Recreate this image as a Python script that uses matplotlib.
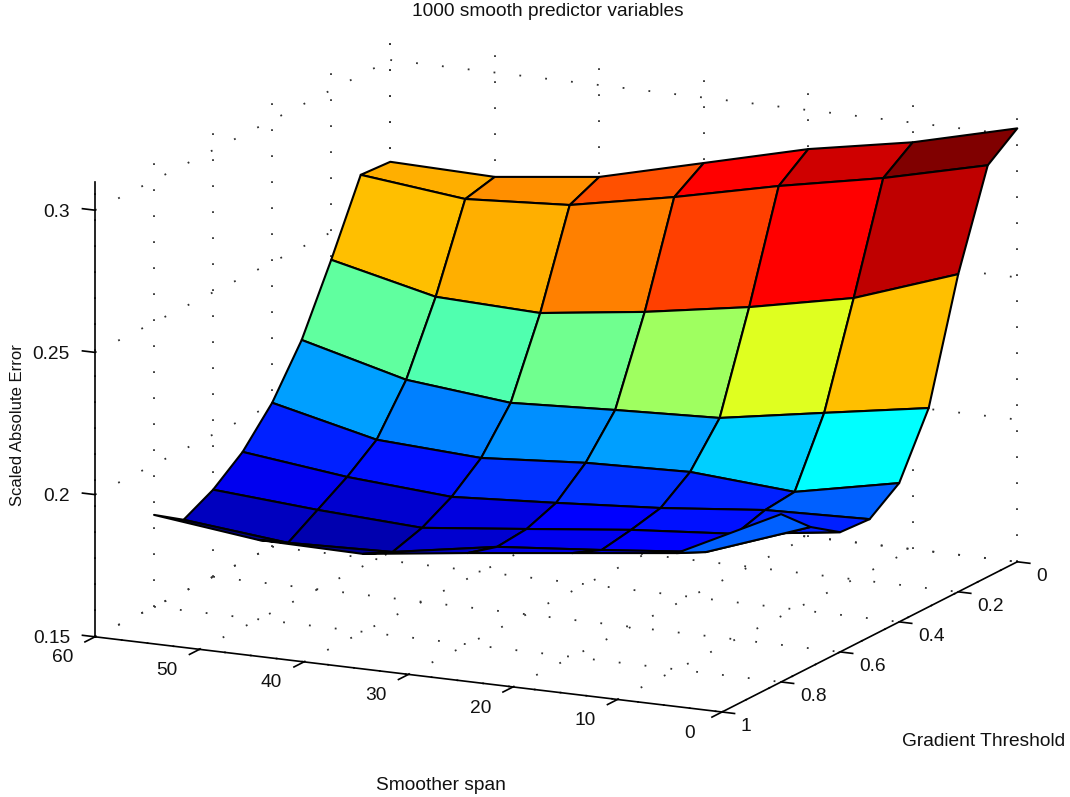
import numpy as np
import matplotlib
matplotlib.use("Agg")
import matplotlib.pyplot as plt
from matplotlib.colors import ListedColormap
from mpl_toolkits.mplot3d import proj3d

plt.rcParams['font.family'] = ['Liberation Sans', 'DejaVu Sans']

W, H = 1070, 797

span = [0, 10, 20, 30, 40, 50, 60]
threshold = [0, 0.1, 0.2, 0.3, 0.4, 0.5, 0.6, 0.7, 0.8]

# one row per threshold, columns follow span
err_00 = [.3024, .2931, .2863, .2770, .2677, .2633, .2642]
err_01 = [.2947, .2858, .2786, .2703, .2631, .2608, .2649]
err_02 = [.2617, .2489, .2413, .2352, .2304, .2317, .2403]
err_03 = [.2199, .2138, .2076, .2060, .2041, .2078, .2174]
err_04 = [.1988, .1913, .1939, .1927, .1900, .1920, .2006]
err_05 = [.1914, .1902, .1865, .1839, .1816, .1842, .1886]
err_06 = [.1921, .1871, .1841, .1800, .1760, .1779, .1806]
err_07 = [.1992, .1860, .1823, .1790, .1728, .1716, .1753]
err_08 = [.2090, .1909, .1865, .1821, .1774, .1779, .1823]

span_ticks = [0, 10, 20, 30, 40, 50, 60]
thr_ticks = [0, 0.2, 0.4, 0.6, 0.8, 1]
thr_labels = ['0', '0.2', '0.4', '0.6', '0.8', '1']
err_ticks = [0.15, 0.2, 0.25, 0.3]
err_labels = ['0.15', '0.2', '0.25', '0.3']
err_lim = (0.15, 0.31)
color_lim = (0.1716, 0.304)

FS = 13.8
DOTS = (0, (1, 13.4))


def matlab_jet(n=64):
    # matplotlib's jet has different break points from the MATLAB one
    x = np.arange(1, n + 1) / n
    r = np.clip(np.minimum(4 * x - 1.5, -4 * x + 4.5), 0, 1)
    g = np.clip(np.minimum(4 * x - 0.5, -4 * x + 3.5), 0, 1)
    b = np.clip(np.minimum(4 * x + 0.5, -4 * x + 2.5), 0, 1)
    return ListedColormap(np.column_stack([r, g, b]))


fig = plt.figure(figsize=(W / 100, H / 100), dpi=100)
ax = fig.add_axes([0, 0, 1, 1], projection='3d', proj_type='ortho', computed_zorder=False)
ax.view_init(elev=14.3, azim=115.9)
ax.set_xlim(0, 60, view_margin=0)
ax.set_ylim(0, 1, view_margin=0)
ax.set_zlim(*err_lim, view_margin=0)
ax.set_box_aspect((697, 676, 469.6), zoom=1)
ax.set_axis_off()


def axes_frac(x, y, z):
    px, py, _ = proj3d.proj_transform(x, y, z, ax.get_proj())
    return ax.transAxes.inverted().transform(ax.transData.transform((px, py)))


# line the box up with the axis corners of the original
ax.apply_aspect()
ua = axes_frac(0, 1, 0.15)
uc = axes_frac(60, 1, 0.15)
size = (722 - 95) / abs(ua[0] - uc[0])
left = 722 - size * ua[0]
bottom = (H - 712) - size * ua[1]
ax.set_position([left / W, bottom / H, size / W, size / H])


def label(x, y, z, txt, ha):
    # tick labels sit on the figure, at the projected spot of the 3d point
    u = axes_frac(x, y, z)
    fig.text((left + size * u[0]) / W, (bottom + size * u[1]) / H, txt, fontsize=FS,
             ha=ha, va='center', color='#111111')


# dotted grid on floor and the two back walls
grid = dict(color='#303030', lw=1.3, ls=DOTS, zorder=1)
for s in span_ticks:
    ax.plot([s, s], [0, 0], err_lim, **grid)
    ax.plot([s, s], [1, 0], [0.15, 0.15], **grid)
for t in thr_ticks:
    ax.plot([60, 60], [t, t], err_lim, **grid)
    ax.plot([60, 0], [t, t], [0.15, 0.15], **grid)
for e in err_ticks:
    ax.plot([60, 60], [1, 0], [e, e], **grid)
    ax.plot([60, 0], [0, 0], [e, e], **grid)

S, T = np.meshgrid(span, threshold)
Z = np.array([err_00, err_01, err_02, err_03, err_04, err_05, err_06, err_07, err_08])
cmap = matlab_jet()
levels = np.clip(((Z - color_lim[0]) / (color_lim[1] - color_lim[0]) * 64).astype(int), 0, 63)
colors = cmap(levels)
ax.plot_surface(S, T, Z, rstride=1, cstride=1, facecolors=colors, shade=False,
                edgecolor='black', linewidth=1.5, antialiased=True, zorder=2)

# axis lines and ticks
line = dict(color='black', lw=1.2, zorder=3)
ax.plot([60, 60], [1, 1], err_lim, **line)
ax.plot([60, 0], [1, 1], [0.15, 0.15], **line)
ax.plot([0, 0], [1, 0], [0.15, 0.15], **line)

for e, lab in zip(err_ticks, err_labels):
    ax.plot([60, 61.2], [1, 1], [e, e], **line)
    label(62.4, 1, e - 0.0018, lab, 'right')
for s in span_ticks:
    ax.plot([s, s], [1, 1.034], [0.15, 0.15], **line)
    label(s, 1.11, 0.1484, str(s), 'center')
for t, lab in zip(thr_ticks, thr_labels):
    ax.plot([0, -1.2], [t, t], [0.15, 0.15], **line)
    label(-1.8, t, 0.1457, lab, 'left')

fig.text(548 / W, 1 - 12 / H, '1000 smooth predictor variables', fontsize=FS, ha='center', va='center', color='#111111')
fig.text(984 / W, 1 - 741 / H, 'Gradient Threshold', fontsize=FS, ha='center', va='center', color='#111111')
fig.text(441 / W, 1 - 786 / H, 'Smoother span', fontsize=FS, ha='center', va='center', color='#111111')
fig.text(18 / W, 1 - 425 / H, 'Scaled Absolute Error', fontsize=12, rotation=90, ha='center', va='center', color='#111111')

fig.savefig('out.png', dpi=100)
